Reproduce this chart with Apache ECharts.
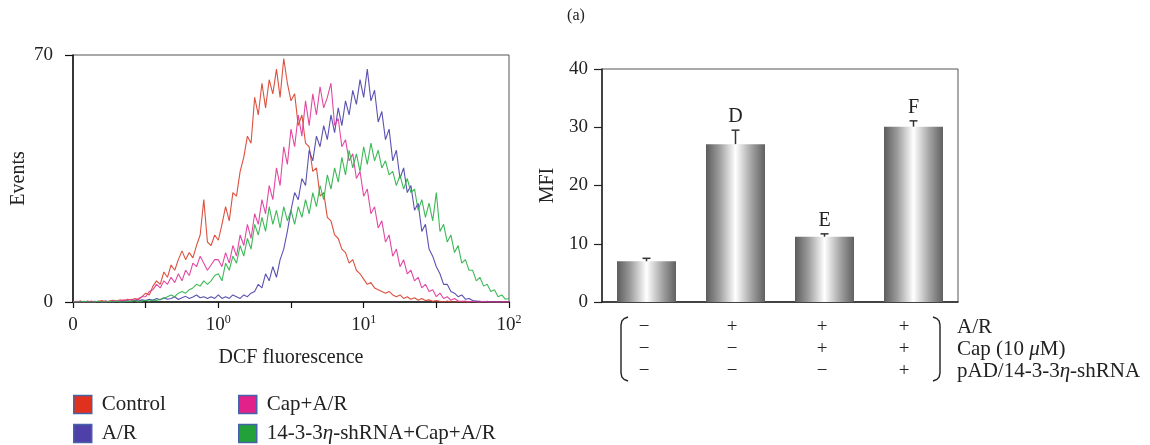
<!DOCTYPE html>
<html>
<head>
<meta charset="utf-8">
<script src="https://cdn.jsdelivr.net/npm/echarts@6/dist/echarts.min.js"></script>
<style>
  html, body { margin: 0; padding: 0; background: #fff; }
  #chart { width: 1150px; height: 445px; }
</style>
</head>
<body>
<div id="chart"></div>
<script>
// ---- DCF histogram: event counts per log-spaced channel bin ----
// Bins run from 10^-1 to 10^2; one axis unit is half a decade, bins are 0.05 units wide.
const BIN_STEP = 0.05;

const controlCounts = [
  0, 0, 0.3, 0, 0, 0.3, 0, 0.2, 0.4, 0, 0.3, 0.5, 0.2, 0.6, 0.3, 0.8, 0.5, 1, 0.6, 1.5,
  2.5, 2, 4.5, 6, 5, 8.5, 7, 10.5, 9, 12, 14.5, 12, 14, 12.5, 16, 19, 29, 17, 16, 19,
  17.5, 22, 27, 23, 31, 30, 37, 41, 47, 45, 58, 53, 62, 55, 63, 59, 66, 58, 69, 62,
  57, 59, 50, 53, 45, 44, 37, 38, 30, 31, 24, 23, 19, 18, 15, 14, 11, 12, 9, 8,
  6.5, 5, 5.5, 4, 3.5, 3, 2.5, 3, 2, 1.5, 2, 1, 1.5, 0.8, 1.2, 0.5, 1, 0.4, 0.6, 0.2,
  0.4, 0.2, 0, 0.3, 0, 0, 0.2, 0, 0, 0, 0.2, 0, 0, 0, 0, 0, 0, 0, 0, 0, 0
];

const arCounts = [
  0, 0, 0.2, 0, 0, 0, 0.2, 0, 0, 0.3, 0, 0, 0.2, 0, 0.3, 0, 0.2, 0.5, 0.3, 0.6,
  0.4, 0.8, 0.5, 1, 0.6, 1.2, 0.8, 1, 1.5, 0.7, 1.2, 1.6, 1, 1.4, 2, 1.2, 1.5, 1, 1.5, 1,
  2, 1, 1.5, 1, 2, 1.5, 1, 2, 1.5, 2.5, 3, 5, 4, 8, 6, 10, 7, 12, 15, 20,
  26, 31, 29, 35, 33, 43, 40, 47, 44, 50, 46, 53, 48, 55, 50, 57, 53, 60, 56, 63,
  58, 66, 57, 60, 51, 54, 46, 49, 40, 43, 35, 38, 31, 33, 26, 28, 20, 22, 15, 13,
  10, 8, 5, 5, 3, 2.5, 1.5, 2, 0.8, 1, 0.4, 0.3, 0.2, 0, 0.2, 0, 0, 0, 0, 0, 0
];

const capArCounts = [
  0, 0.2, 0, 0, 0.3, 0, 0, 0.2, 0, 0.3, 0, 0.4, 0.2, 0.3, 0.6, 0.4, 0.8, 0.5, 1, 1.5,
  1.5, 3, 3.5, 5, 4, 6, 5, 7, 5.5, 8, 6, 9, 7.5, 11, 10, 13, 11, 9, 10.5, 12,
  12, 10, 14, 11, 16, 13, 19, 16, 22, 18, 25, 22, 29, 25, 33, 29, 38, 33, 44, 39,
  49, 44, 53, 47, 57, 50, 59, 53, 61, 55, 58, 62, 50, 52, 44, 46, 40, 42, 35, 37,
  30, 32, 25, 27, 21, 23, 17, 19, 13, 15, 10, 12, 8, 9, 6, 7, 4, 5, 3, 3.5,
  1.5, 2.5, 1, 1.5, 0.5, 1, 0.3, 0.2, 0.3, 0, 0.2, 0, 0, 0.2, 0, 0, 0, 0, 0, 0, 0
];

const shRnaCounts = [
  0, 0, 0, 0.2, 0, 0, 0, 0.2, 0, 0, 0.2, 0, 0.3, 0, 0, 0.3, 0.2, 0.4, 0, 0.3,
  0.5, 0.3, 0.6, 0.4, 0.8, 1, 1.5, 2, 1.5, 2.5, 3, 2.5, 3.5, 4, 5, 4.5, 6, 5, 6, 7.5,
  8, 6, 11, 9, 13, 11, 16, 13, 18, 15, 22, 19, 24, 20, 27, 22, 26, 21, 27, 23,
  26, 22, 27, 24, 29, 25, 31, 27, 33, 29, 36, 32, 38, 34, 41, 36, 43, 38, 42, 37,
  44, 39, 45, 40, 43, 38, 40, 36, 37, 33, 36, 32, 35, 31, 32, 26, 29, 24, 28, 23,
  31, 20, 22, 17, 19, 14, 16, 11, 12, 9, 9, 6, 7, 4.5, 5, 3, 3.5, 1.5, 2, 0.8, 1
];

const histNames = ['Control', 'A/R', 'Cap+A/R', '14-3-3η-shRNA+Cap+A/R'];
const histTickPos = [0, 2, 4, 6];
const histTickText = ['0', '10{s|0}', '10{s|1}', '10{s|2}'];

// ---- MFI bar chart ----
const groups = ['Control', 'A/R', 'Cap+A/R', 'shRNA+Cap+A/R'];
const mfiMean = [7.0, 27.1, 11.2, 30.1];
const mfiErr = [0.5, 2.4, 0.5, 1.0];
const sigLetters = ['', 'D', 'E', 'F'];

// treatment table under the bars
const rowLabels = ['A/R', 'Cap (10 {i|μ}M)', 'pAD/14-3-3{i|η}-shRNA'];
const arRow = ['−', '+', '+', '+'];
const capRow = ['−', '−', '+', '+'];
const shRnaRow = ['−', '−', '−', '+'];

// ---- styling ----
const SERIF = '"Liberation Serif", "DejaVu Serif", serif';
const INK = '#222';
const lineColors = ['#d9432f', '#4d43aa', '#e0399a', '#2eb34a'];
const swatchColors = ['#e0301e', '#4f3fa8', '#e2228a', '#22a03a'];

function toBins(vals) {
  return vals.map((v, i) => [Number((i * BIN_STEP).toFixed(3)), v]);
}

const histSeries = [controlCounts, arCounts, capArCounts, shRnaCounts].map((vals, k) => ({
  name: histNames[k],
  type: 'line',
  xAxisIndex: 0,
  yAxisIndex: 0,
  data: toBins(vals),
  symbol: 'none',
  smooth: false,
  lineStyle: { width: 1.1, color: lineColors[k], opacity: 0.92 },
  itemStyle: { color: swatchColors[k] },
  z: 3 + k
}));

// one legend block per entry, laid out as two columns of two
const legendSlots = [[73, 394], [73, 423], [238, 394], [238, 423]];
const legends = histNames.map((name, k) => ({
  left: legendSlots[k][0],
  top: legendSlots[k][1],
  padding: 0,
  data: [name],
  itemWidth: 18,
  itemHeight: 18,
  icon: 'rect',
  selectedMode: false,
  itemStyle: { borderColor: '#4563a8', borderWidth: 1.5 },
  formatter: n => n.replace('η', '{i|η}'),
  textStyle: {
    fontFamily: SERIF, fontSize: 21, color: INK, padding: [0, 0, 0, 5],
    rich: { i: { fontFamily: SERIF, fontSize: 21, fontStyle: 'italic', color: INK } }
  }
}));

const axisText = { fontFamily: SERIF, fontSize: 19, color: INK };

// table cells as graphic text
const colX = [644, 732, 822, 904];
const rowY = [327, 349, 371];
const tableGraphics = [];
[arRow, capRow, shRnaRow].forEach((row, r) => {
  row.forEach((sign, c) => {
    tableGraphics.push({
      type: 'text', x: colX[c], y: rowY[r],
      style: { text: sign, font: `19px ${SERIF}`, fill: INK, align: 'center', verticalAlign: 'middle' }
    });
  });
  tableGraphics.push({
    type: 'text', x: 957, y: rowY[r],
    style: {
      text: rowLabels[r], font: `21px ${SERIF}`, fill: INK, align: 'left', verticalAlign: 'middle',
      rich: { i: { fontFamily: SERIF, fontSize: 21, fontStyle: 'italic', fill: INK } }
    }
  });
});

// curly-ended brackets around the treatment table
function bracket(xEdge, xTip) {
  return {
    type: 'polyline',
    shape: {
      points: [
        [xTip, 317], [xEdge + (xTip - xEdge) * 0.45, 318.5], [xEdge + (xTip - xEdge) * 0.12, 321], [xEdge, 325],
        [xEdge, 373], [xEdge + (xTip - xEdge) * 0.12, 377], [xEdge + (xTip - xEdge) * 0.45, 379.5], [xTip, 381]
      ]
    },
    style: { stroke: INK, lineWidth: 1.4, fill: null }
  };
}

const chart = echarts.init(document.getElementById('chart'), null, { renderer: 'canvas' });

chart.setOption({
  animation: false,
  backgroundColor: '#fff',
  grid: [
    { left: 73, top: 55, width: 436, height: 247, show: true, borderColor: '#555', borderWidth: 1 },
    { left: 602, top: 69, width: 356, height: 233, show: true, borderColor: '#555', borderWidth: 1 }
  ],
  legend: legends,
  xAxis: [
    {
      type: 'value', gridIndex: 0, min: 0, max: 6, interval: 1,
      axisLine: { onZero: false, lineStyle: { color: '#111', width: 1.5 } },
      axisTick: { show: true, length: 6, lineStyle: { color: '#111', width: 1.2 } },
      splitLine: { show: false },
      axisLabel: {
        margin: 12, showMinLabel: true, showMaxLabel: true,
        fontFamily: SERIF, fontSize: 19, color: INK, lineHeight: 22,
        formatter: v => {
          const k = histTickPos.indexOf(Math.round(v * 100) / 100);
          return k >= 0 ? histTickText[k] : '';
        },
        rich: { s: { fontFamily: SERIF, fontSize: 12, color: INK, verticalAlign: 'top', lineHeight: 12 } }
      },
      name: 'DCF fluorescence', nameLocation: 'middle', nameGap: 46,
      nameTextStyle: { fontFamily: SERIF, fontSize: 20, color: INK }
    },
    {
      type: 'category', gridIndex: 1, data: groups,
      axisLine: { lineStyle: { color: '#222', width: 1.5 } },
      axisTick: { show: false },
      axisLabel: { show: false }
    }
  ],
  yAxis: [
    {
      type: 'value', gridIndex: 0, min: 0, max: 70, interval: 70,
      axisLine: { show: true, lineStyle: { color: '#111', width: 1.5 } },
      axisTick: { show: true, length: 8, lineStyle: { color: '#111', width: 1.2 } },
      splitLine: { show: false },
      axisLabel: Object.assign({ margin: 20 }, axisText),
      name: 'Events', nameLocation: 'middle', nameGap: 44, nameRotate: 90,
      nameTextStyle: { fontFamily: SERIF, fontSize: 20, color: INK }
    },
    {
      type: 'value', gridIndex: 1, min: 0, max: 40, interval: 10,
      axisLine: { show: true, lineStyle: { color: '#222', width: 1.5 } },
      axisTick: { show: true, length: 8, lineStyle: { color: '#222', width: 1.2 } },
      splitLine: { show: false },
      axisLabel: Object.assign({ margin: 14 }, axisText),
      name: 'MFI', nameLocation: 'middle', nameGap: 44, nameRotate: 90,
      nameTextStyle: { fontFamily: SERIF, fontSize: 20, color: INK }
    }
  ],
  series: histSeries.concat([
    {
      name: 'MFI',
      type: 'bar',
      xAxisIndex: 1,
      yAxisIndex: 1,
      data: mfiMean,
      barWidth: 59,
      itemStyle: {
        color: {
          type: 'linear', x: 0, y: 0, x2: 1, y2: 0,
          colorStops: [
            { offset: 0, color: '#5c5c5c' },
            { offset: 0.22, color: '#9a9a9a' },
            { offset: 0.5, color: '#ffffff' },
            { offset: 0.78, color: '#a0a0a0' },
            { offset: 1, color: '#606060' }
          ]
        }
      },
      z: 2
    },
    {
      name: 'MFI error',
      type: 'custom',
      xAxisIndex: 1,
      yAxisIndex: 1,
      data: mfiMean.map((m, i) => [i, m, mfiErr[i]]),
      renderItem: (params, api) => {
        const i = api.value(0), m = api.value(1), e = api.value(2);
        const base = api.coord([i, m]);
        const top = api.coord([i, m + e]);
        const children = [
          { type: 'line', shape: { x1: base[0], y1: base[1], x2: top[0], y2: top[1] },
            style: { stroke: '#333', lineWidth: 1.5 } },
          { type: 'line', shape: { x1: top[0] - 4, y1: top[1], x2: top[0] + 4, y2: top[1] },
            style: { stroke: '#333', lineWidth: 1.5 } }
        ];
        const letter = sigLetters[params.dataIndex];
        if (letter) {
          children.push({
            type: 'text', x: top[0], y: top[1] - 13,
            style: { text: letter, font: `20px ${SERIF}`, fill: INK, align: 'center', verticalAlign: 'middle' }
          });
        }
        return { type: 'group', children };
      },
      z: 4
    }
  ]),
  graphic: [
    {
      type: 'text', x: 576, y: 16,
      style: { text: '(a)', font: `16px ${SERIF}`, fill: INK, align: 'center', verticalAlign: 'middle' }
    },
    bracket(621, 628),
    bracket(940, 933)
  ].concat(tableGraphics)
});
</script>
</body>
</html>
